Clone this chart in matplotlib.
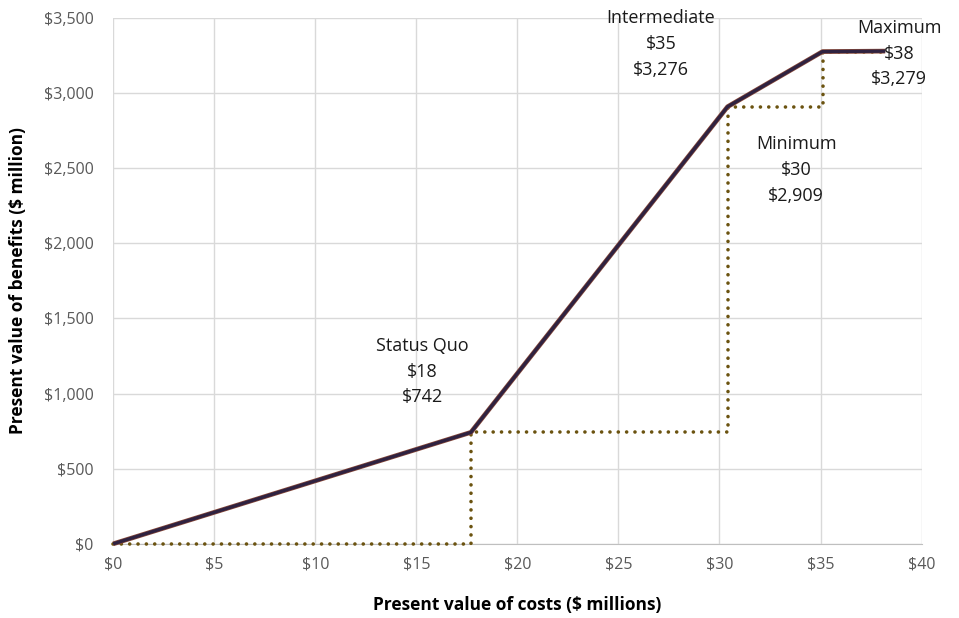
import matplotlib
matplotlib.use("Agg")
import matplotlib.pyplot as plt
from matplotlib.ticker import FuncFormatter

plt.rcParams['font.family'] = ['Open Sans', 'DejaVu Sans']

# alternatives ordered by cost
names = ["Status Quo", "Minimum", "Intermediate", "Maximum"]
costs = [17.7, 30.4, 35.1, 38.2]       # $ millions
benefits = [742, 2909, 3276, 3279]     # $ million

# centre of each label block
label_xy = [(15.3, 1145), (33.8, 2488), (27.1, 3327), (38.9, 3262)]

frontier_x = [0] + costs
frontier_y = [0] + benefits

# step line: run across at previous benefit, then rise
step_x = [0]
step_y = [0]
prev_b = 0
for c, b in zip(costs, benefits):
    step_x += [c, c]
    step_y += [prev_b, b]
    prev_b = b

fig = plt.figure(figsize=(9.59, 6.18), dpi=100)
ax = fig.add_axes([0.118, 0.12, 0.843, 0.851])

ax.plot(step_x, step_y, color="#6b5310", lw=2.6, linestyle=(0, (0.01, 2.3)),
        dash_capstyle="round", zorder=3, clip_on=False)
ax.plot(frontier_x, frontier_y, color="#8a4a3a", lw=3.4, solid_capstyle="butt", zorder=4,
        clip_on=False)
ax.plot(frontier_x, frontier_y, color="#2f2240", lw=2.4, solid_capstyle="butt", zorder=5,
        clip_on=False)

for n, c, b, (lx, ly) in zip(names, costs, benefits, label_xy):
    ax.text(lx, ly, f"{n}\n${c:.0f}\n${b:,.0f}", ha="center", va="center",
            fontsize=13, color="#1a1a1a", linespacing=1.55, zorder=6)

ax.set_xlim(0, 40)
ax.set_ylim(0, 3500)
ax.set_xticks(range(0, 41, 5))
ax.set_yticks(range(0, 3501, 500))
ax.xaxis.set_major_formatter(FuncFormatter(lambda v, p: f"${v:,.0f}"))
ax.yaxis.set_major_formatter(FuncFormatter(lambda v, p: f"${v:,.0f}"))
ax.tick_params(length=0, labelsize=11.5, colors="#595959")
ax.tick_params(axis="y", pad=14)
ax.tick_params(axis="x", pad=9)

ax.grid(True, color="#d9d9d9", lw=1.0)
ax.set_axisbelow(True)
for s in ["top", "right", "left"]:
    ax.spines[s].set_visible(False)
ax.spines["bottom"].set_color("#bfbfbf")

ax.set_xlabel("Present value of costs ($ millions)", fontsize=12.5, fontweight="bold",
              color="#000000", labelpad=17)
ax.set_ylabel("Present value of benefits ($ million)", fontsize=12.5, fontweight="bold",
              color="#000000", labelpad=12)

fig.savefig("out.png", dpi=100)
